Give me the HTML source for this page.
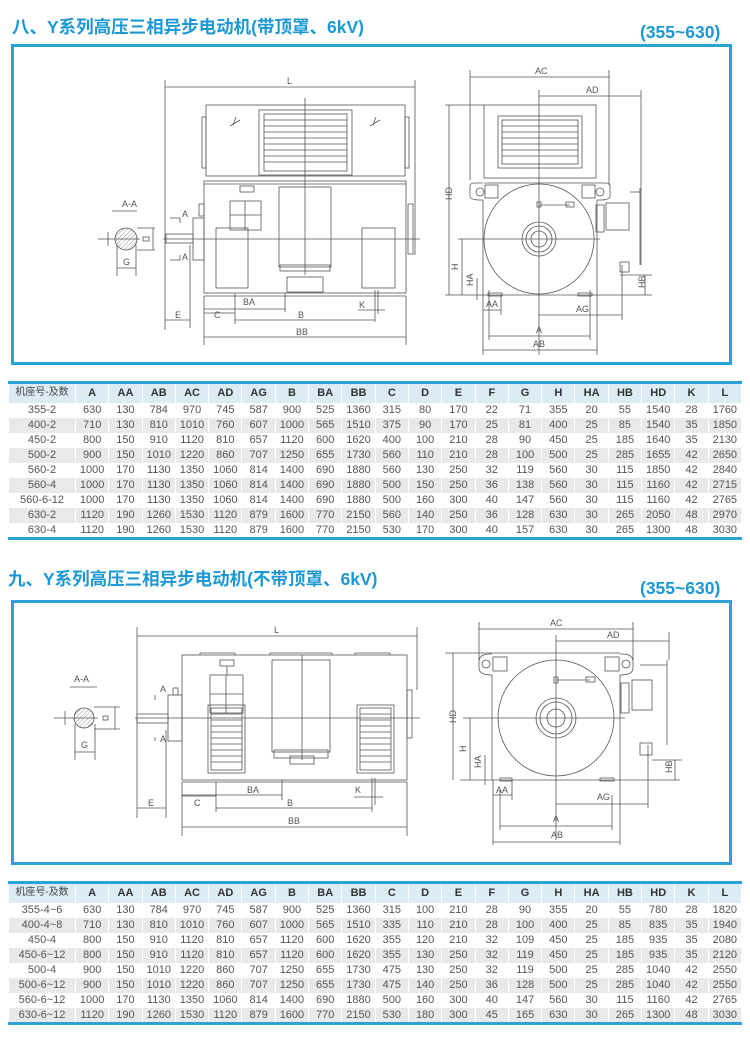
<!DOCTYPE html>
<html><head><meta charset="utf-8"><style>
*{margin:0;padding:0;box-sizing:border-box}
body{width:750px;height:1041px;background:#fff;position:relative;overflow:hidden;font-family:"Liberation Sans","Noto Sans CJK SC",sans-serif}
.t{position:absolute;color:#1b98d5;font-weight:bold;font-size:17.5px;white-space:nowrap}
.box{position:absolute;border:3px solid #2aa3d9}
table{position:absolute;left:8px;width:734px;border-collapse:collapse;border-top:3px solid #2aa3d9;border-bottom:3px solid #2aa3d9;table-layout:fixed;font-family:"Liberation Sans Narrow","Liberation Sans","Noto Sans CJK SC",sans-serif}
td,th{text-align:center;font-size:11px;color:#555;border-left:1px solid #fff;border-right:1px solid #fff;height:15px;line-height:14px;padding:0;font-weight:normal}
th{height:20px;background:#dcecf5;color:#333;font-weight:bold;font-family:"Liberation Sans","Noto Sans CJK SC",sans-serif;font-size:11px}
th:first-child{font-weight:normal;font-size:10px;color:#444}
tr:nth-child(odd) td{background:#e9e9e9}
svg{position:absolute;left:0;top:0}
svg text{font-family:"Liberation Sans Narrow","Liberation Sans",sans-serif;font-size:9px;fill:#555}
</style></head><body>
<div class="t" style="left:12px;top:14px">八、Y系列高压三相异步电动机(带顶罩、6kV)</div>
<div class="t" style="left:640px;top:22px">(355~630)</div>
<div class="box" style="left:11px;top:44px;width:721px;height:321px"></div>
<div class="t" style="left:8px;top:566px">九、Y系列高压三相异步电动机(不带顶罩、6kV)</div>
<div class="t" style="left:640px;top:578px">(355~630)</div>
<div class="box" style="left:11px;top:600px;width:721px;height:265px"></div>

<svg width="750" height="1041" viewBox="0 0 750 1041">
<defs><pattern id="h" width="3" height="3" patternUnits="userSpaceOnUse" patternTransform="rotate(45)"><line x1="0" y1="0" x2="0" y2="3" stroke="#777" stroke-width="0.8"/></pattern></defs>
<g stroke="#555" stroke-width="0.8" fill="none">
<!-- TOP FRONT -->
<line x1="165" y1="80" x2="165" y2="330"/><line x1="415" y1="80" x2="415" y2="255"/>
<line x1="165" y1="87" x2="415" y2="87"/>
<rect x="206" y="105" width="199" height="71"/>
<rect x="259" y="110" width="93" height="65"/>
<rect x="264" y="114" width="83" height="57"/>
<path d="M264 120H347M264 126H347M264 132H347M264 138H347M264 144H347M264 150H347M264 156H347M264 162H347"/>
<rect x="202" y="117" width="4" height="51"/><rect x="405" y="117" width="4" height="51"/>
<path d="M230 126l10-6M233 125l3-8M370 126l10-6M373 125l3-8"/>
<rect x="204" y="181" width="202" height="112"/><line x1="204" y1="184" x2="406" y2="184"/>
<line x1="305" y1="98" x2="305" y2="275"/>
<line x1="163" y1="239" x2="420" y2="239"/>
<rect x="166" y="234" width="27" height="9"/>
<rect x="193" y="218" width="11" height="42"/>
<rect x="199" y="204" width="5" height="12"/>
<rect x="408" y="204" width="5" height="50"/>
<rect x="230" y="201" width="31" height="29"/><line x1="245" y1="201" x2="245" y2="230"/><line x1="230" y1="215" x2="261" y2="215"/>
<rect x="240" y="186" width="14" height="6"/>
<rect x="216" y="228" width="32" height="60"/>
<rect x="279" y="187" width="52" height="80"/>
<rect x="280" y="265" width="50" height="6"/>
<rect x="287" y="277" width="36" height="15"/>
<rect x="362" y="228" width="33" height="60"/>
<line x1="204" y1="296" x2="406" y2="296"/>
<line x1="235" y1="293" x2="235" y2="324"/><line x1="285" y1="293" x2="285" y2="312"/>
<line x1="204" y1="309" x2="285" y2="309"/><line x1="204" y1="313" x2="235" y2="313"/>
<line x1="190" y1="245" x2="190" y2="328"/>
<line x1="165" y1="320" x2="190" y2="320"/><line x1="235" y1="320" x2="375" y2="320"/>
<line x1="375" y1="290" x2="375" y2="322"/><line x1="378" y1="290" x2="378" y2="314"/><line x1="358" y1="310" x2="385" y2="310"/>
<line x1="204" y1="296" x2="204" y2="345"/><line x1="406" y1="296" x2="406" y2="345"/>
<line x1="204" y1="337" x2="406" y2="337"/>
<path d="M170 218h10v5M170 260h10v-5"/>
<!-- A-A top -->
<line x1="112" y1="211" x2="137" y2="211"/>
<circle cx="126" cy="239" r="11" fill="url(#h)"/>
<line x1="98" y1="239" x2="140" y2="239"/><line x1="108" y1="232" x2="108" y2="246"/>
<line x1="137" y1="228" x2="155" y2="228"/><line x1="137" y1="250" x2="155" y2="250"/><line x1="153" y1="228" x2="153" y2="250"/>
<rect x="143" y="237" width="6" height="4"/>
<line x1="117" y1="245" x2="117" y2="276"/><line x1="136" y1="245" x2="136" y2="276"/><line x1="117" y1="268" x2="136" y2="268"/>
<!-- TOP SIDE -->
<line x1="470" y1="70" x2="470" y2="180"/><line x1="609" y1="70" x2="609" y2="185"/>
<line x1="470" y1="77" x2="609" y2="77"/>
<line x1="539" y1="96" x2="641" y2="96"/><line x1="641" y1="90" x2="641" y2="265"/>
<line x1="539" y1="90" x2="539" y2="355"/>
<rect x="484" y="105" width="112" height="73"/>
<rect x="498" y="116" width="84" height="52"/><rect x="502" y="120" width="76" height="44"/>
<path d="M502 126H578M502 132H578M502 138H578M502 144H578M502 150H578M502 156H578"/>
<path d="M484 183H597M470 186q0-3 5-3h8M610 186q0-3-5-3h-8M470 186v10q0 4 10 4h3v95M610 186v10q0 4-10 4h-3v95"/>
<circle cx="480" cy="192" r="4"/><circle cx="600" cy="192" r="4"/>
<rect x="485" y="185" width="13" height="13"/><rect x="582" y="185" width="13" height="13"/>
<circle cx="539" cy="239" r="55"/>
<circle cx="539" cy="239" r="17"/><circle cx="539" cy="239" r="13"/><circle cx="539" cy="239" r="8"/>
<line x1="539" y1="205" x2="570" y2="205"/><rect x="566" y="202" width="8" height="5"/><rect x="537" y="202" width="4" height="5"/>
<rect x="596" y="205" width="8" height="27"/>
<rect x="606" y="203" width="23" height="27"/>
<line x1="630" y1="192" x2="640" y2="192"/><line x1="640" y1="188" x2="640" y2="265"/>
<rect x="620" y="262" width="9" height="10"/>
<line x1="445" y1="105" x2="484" y2="105"/>
<line x1="449" y1="105" x2="449" y2="295"/>
<line x1="458" y1="239" x2="600" y2="239"/>
<line x1="462" y1="239" x2="462" y2="295"/>
<line x1="477" y1="278" x2="477" y2="300"/>
<line x1="445" y1="295" x2="652" y2="295"/>
<line x1="483" y1="295" x2="483" y2="355"/><line x1="597" y1="295" x2="597" y2="355"/>
<line x1="501" y1="295" x2="501" y2="315"/>
<line x1="483" y1="310" x2="501" y2="310"/>
<line x1="539" y1="315" x2="622" y2="315"/><line x1="622" y1="265" x2="622" y2="320"/>
<line x1="590" y1="290" x2="590" y2="340"/><line x1="489" y1="290" x2="489" y2="340"/>
<line x1="489" y1="336" x2="590" y2="336"/><line x1="483" y1="350" x2="597" y2="350"/>
<line x1="645" y1="275" x2="645" y2="295"/><line x1="620" y1="275" x2="652" y2="275"/>
<rect x="488" y="293" width="14" height="3"/><rect x="578" y="293" width="14" height="3"/>

<!-- BOTTOM FRONT -->
<line x1="137" y1="627" x2="137" y2="818"/><line x1="417" y1="627" x2="417" y2="690"/>
<line x1="137" y1="636" x2="417" y2="636"/>
<rect x="182" y="655" width="225" height="125"/>
<path d="M200 655v-2h35v2M270 655v-2h62v2M355 655v-2h35v2"/>
<line x1="302" y1="655" x2="302" y2="760"/>
<line x1="135" y1="718" x2="420" y2="718"/>
<rect x="137" y="714" width="31" height="9"/>
<rect x="168" y="695" width="14" height="46"/><rect x="173" y="688" width="5" height="7"/>
<rect x="407" y="690" width="5" height="48"/>
<rect x="210" y="675" width="33" height="38"/><line x1="226" y1="675" x2="226" y2="713"/><line x1="210" y1="694" x2="243" y2="694"/>
<rect x="220" y="660" width="14" height="6"/><line x1="227" y1="666" x2="227" y2="675"/>
<rect x="208" y="705" width="37" height="68"/><rect x="211" y="708" width="31" height="62"/>
<path d="M211 714h31M211 720h31M211 726h31M211 732h31M211 738h31M211 744h31M211 750h31M211 756h31M211 762h31"/>
<rect x="272" y="660" width="58" height="92"/>
<rect x="274" y="750" width="54" height="8"/><rect x="290" y="756" width="24" height="8"/>
<rect x="357" y="705" width="37" height="68"/><rect x="360" y="708" width="31" height="62"/>
<path d="M360 714h31M360 720h31M360 726h31M360 732h31M360 738h31M360 744h31M360 750h31M360 756h31M360 762h31"/>
<line x1="182" y1="782" x2="407" y2="782"/>
<line x1="216" y1="782" x2="216" y2="812"/><line x1="282" y1="780" x2="282" y2="800"/>
<line x1="182" y1="795" x2="282" y2="795"/><line x1="182" y1="796" x2="216" y2="796"/>
<line x1="166" y1="730" x2="166" y2="818"/>
<line x1="137" y1="808" x2="166" y2="808"/><line x1="216" y1="808" x2="372" y2="808"/>
<line x1="372" y1="778" x2="372" y2="812"/><line x1="375" y1="778" x2="375" y2="805"/><line x1="354" y1="797" x2="383" y2="797"/>
<line x1="182" y1="782" x2="182" y2="836"/><line x1="407" y1="782" x2="407" y2="836"/>
<line x1="182" y1="827" x2="407" y2="827"/>
<line x1="155" y1="695" x2="155" y2="700"/><line x1="155" y1="737" x2="155" y2="741"/>
<!-- A-A bottom -->
<line x1="70" y1="687" x2="97" y2="687"/>
<circle cx="84" cy="718" r="10" fill="url(#h)"/>
<line x1="54" y1="718" x2="98" y2="718"/><line x1="65" y1="711" x2="65" y2="725"/>
<line x1="94" y1="707" x2="120" y2="707"/><line x1="94" y1="729" x2="120" y2="729"/><line x1="115" y1="707" x2="115" y2="729"/>
<rect x="103" y="716" width="5" height="4"/>
<line x1="75" y1="724" x2="75" y2="760"/><line x1="95" y1="724" x2="95" y2="760"/><line x1="75" y1="752" x2="95" y2="752"/>
<!-- BOTTOM SIDE -->
<line x1="479" y1="622" x2="479" y2="660"/><line x1="633" y1="622" x2="633" y2="660"/>
<line x1="479" y1="629" x2="633" y2="629"/>
<line x1="556" y1="641" x2="669" y2="641"/><line x1="669" y1="632" x2="669" y2="660"/>
<line x1="556" y1="635" x2="556" y2="840"/>
<path d="M492 653H620M479 662q0-8 10-8h3M633 662q0-8-10-8h-3M479 662v6q0 7 13 7v105M633 662v6q0 7-13 7v105"/>
<circle cx="486" cy="664" r="4"/><circle cx="626" cy="664" r="4"/>
<rect x="493" y="657" width="14" height="14"/><rect x="605" y="657" width="14" height="14"/>
<circle cx="556" cy="718" r="58"/>
<circle cx="556" cy="718" r="20"/><circle cx="556" cy="718" r="16"/><circle cx="556" cy="718" r="9"/>
<line x1="556" y1="680" x2="590" y2="680"/><rect x="586" y="677" width="9" height="5"/><rect x="554" y="677" width="4" height="6"/>
<rect x="621" y="683" width="8" height="30"/>
<rect x="632" y="680" width="20" height="30"/>
<line x1="640" y1="665" x2="667" y2="665"/><line x1="667" y1="660" x2="667" y2="745"/>
<rect x="640" y="743" width="12" height="12"/>
<line x1="445" y1="653" x2="492" y2="653"/>
<line x1="453" y1="653" x2="453" y2="780"/>
<line x1="463" y1="718" x2="625" y2="718"/>
<line x1="470" y1="718" x2="470" y2="780"/>
<line x1="485" y1="755" x2="485" y2="785"/>
<line x1="460" y1="780" x2="680" y2="780"/>
<line x1="493" y1="780" x2="493" y2="845"/><line x1="620" y1="780" x2="620" y2="845"/>
<line x1="512" y1="780" x2="512" y2="800"/>
<line x1="493" y1="795" x2="512" y2="795"/>
<line x1="556" y1="804" x2="648" y2="804"/><line x1="648" y1="745" x2="648" y2="808"/>
<line x1="612" y1="795" x2="612" y2="830"/><line x1="500" y1="790" x2="500" y2="830"/>
<line x1="500" y1="826" x2="612" y2="826"/><line x1="493" y1="842" x2="620" y2="842"/>
<line x1="675" y1="760" x2="675" y2="780"/><line x1="652" y1="760" x2="682" y2="760"/>
<rect x="500" y="778" width="12" height="3"/><rect x="600" y="778" width="14" height="3"/>
</g>
<g>
<text x="287" y="84">L</text><text x="122" y="207">A-A</text><text x="123" y="265">G</text>
<text x="243" y="305">BA</text><text x="214" y="318">C</text><text x="175" y="318">E</text><text x="298" y="318">B</text><text x="359" y="308">K</text><text x="296" y="335">BB</text>
<text x="182" y="217" font-size="7">A</text><text x="182" y="260" font-size="7">A</text>
<text x="535" y="74">AC</text><text x="586" y="93">AD</text>
<text x="452" y="200" transform="rotate(-90 452 200)">HD</text><text x="458" y="270" transform="rotate(-90 458 270)">H</text><text x="473" y="286" transform="rotate(-90 473 286)">HA</text><text x="645" y="288" transform="rotate(-90 645 288)">HB</text>
<text x="486" y="307">AA</text><text x="576" y="312">AG</text><text x="536" y="333">A</text><text x="533" y="347">AB</text>
<text x="274" y="633">L</text><text x="74" y="682">A-A</text><text x="81" y="748">G</text>
<text x="247" y="793">BA</text><text x="194" y="806">C</text><text x="148" y="806">E</text><text x="287" y="806">B</text><text x="355" y="793">K</text><text x="288" y="824">BB</text>
<text x="160" y="692" font-size="7">A</text><text x="160" y="742" font-size="7">A</text>
<text x="550" y="626">AC</text><text x="607" y="638">AD</text>
<text x="456" y="723" transform="rotate(-90 456 723)">HD</text><text x="466" y="752" transform="rotate(-90 466 752)">H</text><text x="481" y="768" transform="rotate(-90 481 768)">HA</text><text x="672" y="773" transform="rotate(-90 672 773)">HB</text>
<text x="496" y="793">AA</text><text x="597" y="800">AG</text><text x="553" y="822">A</text><text x="551" y="838">AB</text>
</g>
</svg>

<table style="top:381px">
<colgroup><col style="width:67px"><col span="20"></colgroup>
<tr><th>机座号-及数</th><th>A</th><th>AA</th><th>AB</th><th>AC</th><th>AD</th><th>AG</th><th>B</th><th>BA</th><th>BB</th><th>C</th><th>D</th><th>E</th><th>F</th><th>G</th><th>H</th><th>HA</th><th>HB</th><th>HD</th><th>K</th><th>L</th></tr>
<tr><td>355-2</td><td>630</td><td>130</td><td>784</td><td>970</td><td>745</td><td>587</td><td>900</td><td>525</td><td>1360</td><td>315</td><td>80</td><td>170</td><td>22</td><td>71</td><td>355</td><td>20</td><td>55</td><td>1540</td><td>28</td><td>1760</td></tr>
<tr><td>400-2</td><td>710</td><td>130</td><td>810</td><td>1010</td><td>760</td><td>607</td><td>1000</td><td>565</td><td>1510</td><td>375</td><td>90</td><td>170</td><td>25</td><td>81</td><td>400</td><td>25</td><td>85</td><td>1540</td><td>35</td><td>1850</td></tr>
<tr><td>450-2</td><td>800</td><td>150</td><td>910</td><td>1120</td><td>810</td><td>657</td><td>1120</td><td>600</td><td>1620</td><td>400</td><td>100</td><td>210</td><td>28</td><td>90</td><td>450</td><td>25</td><td>185</td><td>1640</td><td>35</td><td>2130</td></tr>
<tr><td>500-2</td><td>900</td><td>150</td><td>1010</td><td>1220</td><td>860</td><td>707</td><td>1250</td><td>655</td><td>1730</td><td>560</td><td>110</td><td>210</td><td>28</td><td>100</td><td>500</td><td>25</td><td>285</td><td>1655</td><td>42</td><td>2650</td></tr>
<tr><td>560-2</td><td>1000</td><td>170</td><td>1130</td><td>1350</td><td>1060</td><td>814</td><td>1400</td><td>690</td><td>1880</td><td>560</td><td>130</td><td>250</td><td>32</td><td>119</td><td>560</td><td>30</td><td>115</td><td>1850</td><td>42</td><td>2840</td></tr>
<tr><td>560-4</td><td>1000</td><td>170</td><td>1130</td><td>1350</td><td>1060</td><td>814</td><td>1400</td><td>690</td><td>1880</td><td>500</td><td>150</td><td>250</td><td>36</td><td>138</td><td>560</td><td>30</td><td>115</td><td>1160</td><td>42</td><td>2715</td></tr>
<tr><td>560-6-12</td><td>1000</td><td>170</td><td>1130</td><td>1350</td><td>1060</td><td>814</td><td>1400</td><td>690</td><td>1880</td><td>500</td><td>160</td><td>300</td><td>40</td><td>147</td><td>560</td><td>30</td><td>115</td><td>1160</td><td>42</td><td>2765</td></tr>
<tr><td>630-2</td><td>1120</td><td>190</td><td>1260</td><td>1530</td><td>1120</td><td>879</td><td>1600</td><td>770</td><td>2150</td><td>560</td><td>140</td><td>250</td><td>36</td><td>128</td><td>630</td><td>30</td><td>265</td><td>2050</td><td>48</td><td>2970</td></tr>
<tr><td>630-4</td><td>1120</td><td>190</td><td>1260</td><td>1530</td><td>1120</td><td>879</td><td>1600</td><td>770</td><td>2150</td><td>530</td><td>170</td><td>300</td><td>40</td><td>157</td><td>630</td><td>30</td><td>265</td><td>1300</td><td>48</td><td>3030</td></tr>
</table>

<table style="top:881px">
<colgroup><col style="width:67px"><col span="20"></colgroup>
<tr><th>机座号-及数</th><th>A</th><th>AA</th><th>AB</th><th>AC</th><th>AD</th><th>AG</th><th>B</th><th>BA</th><th>BB</th><th>C</th><th>D</th><th>E</th><th>F</th><th>G</th><th>H</th><th>HA</th><th>HB</th><th>HD</th><th>K</th><th>L</th></tr>
<tr><td>355-4~6</td><td>630</td><td>130</td><td>784</td><td>970</td><td>745</td><td>587</td><td>900</td><td>525</td><td>1360</td><td>315</td><td>100</td><td>210</td><td>28</td><td>90</td><td>355</td><td>20</td><td>55</td><td>780</td><td>28</td><td>1820</td></tr>
<tr><td>400-4~8</td><td>710</td><td>130</td><td>810</td><td>1010</td><td>760</td><td>607</td><td>1000</td><td>565</td><td>1510</td><td>335</td><td>110</td><td>210</td><td>28</td><td>100</td><td>400</td><td>25</td><td>85</td><td>835</td><td>35</td><td>1940</td></tr>
<tr><td>450-4</td><td>800</td><td>150</td><td>910</td><td>1120</td><td>810</td><td>657</td><td>1120</td><td>600</td><td>1620</td><td>355</td><td>120</td><td>210</td><td>32</td><td>109</td><td>450</td><td>25</td><td>185</td><td>935</td><td>35</td><td>2080</td></tr>
<tr><td>450-6~12</td><td>800</td><td>150</td><td>910</td><td>1120</td><td>810</td><td>657</td><td>1120</td><td>600</td><td>1620</td><td>355</td><td>130</td><td>250</td><td>32</td><td>119</td><td>450</td><td>25</td><td>185</td><td>935</td><td>35</td><td>2120</td></tr>
<tr><td>500-4</td><td>900</td><td>150</td><td>1010</td><td>1220</td><td>860</td><td>707</td><td>1250</td><td>655</td><td>1730</td><td>475</td><td>130</td><td>250</td><td>32</td><td>119</td><td>500</td><td>25</td><td>285</td><td>1040</td><td>42</td><td>2550</td></tr>
<tr><td>500-6~12</td><td>900</td><td>150</td><td>1010</td><td>1220</td><td>860</td><td>707</td><td>1250</td><td>655</td><td>1730</td><td>475</td><td>140</td><td>250</td><td>36</td><td>128</td><td>500</td><td>25</td><td>285</td><td>1040</td><td>42</td><td>2550</td></tr>
<tr><td>560-6~12</td><td>1000</td><td>170</td><td>1130</td><td>1350</td><td>1060</td><td>814</td><td>1400</td><td>690</td><td>1880</td><td>500</td><td>160</td><td>300</td><td>40</td><td>147</td><td>560</td><td>30</td><td>115</td><td>1160</td><td>42</td><td>2765</td></tr>
<tr><td>630-6~12</td><td>1120</td><td>190</td><td>1260</td><td>1530</td><td>1120</td><td>879</td><td>1600</td><td>770</td><td>2150</td><td>530</td><td>180</td><td>300</td><td>45</td><td>165</td><td>630</td><td>30</td><td>265</td><td>1300</td><td>48</td><td>3030</td></tr>
</table>
</body></html>
